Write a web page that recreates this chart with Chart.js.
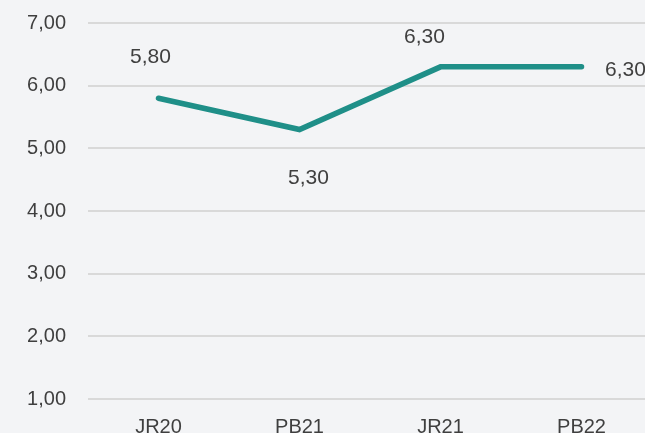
<!DOCTYPE html>
<html>
<head>
<meta charset="utf-8">
<script src="https://cdn.jsdelivr.net/npm/chart.js@4"></script>
<style>
  html, body { margin: 0; padding: 0; background: #f3f4f6; overflow: hidden; }
  #wrap { position: absolute; left: 0; top: 0; width: 652px; height: 455px; }
</style>
</head>
<body>
<div id="wrap"><canvas id="graf"></canvas></div>
<script>
// Donnees
const periodes = ['JR20', 'PB21', 'JR21', 'PB22'];
const valeurs = [5.80, 5.30, 6.30, 6.30];
const yTicks = [1, 2, 3, 4, 5, 6, 7];

// placement des etiquettes (dx, dy en px autour du point)
const etiqDx = [-8, 9, -16, 44];
const etiqDy = [-41, 49, -30, 3];

const police = "'Liberation Sans', Arial, sans-serif";
const fmt = (v) => v.toFixed(2).replace('.', ',');

// Plugin maison pour les etiquettes de valeurs
const etiquettes = {
    id: 'etiquettes',
    afterDatasetsDraw(chart) {
        const ctx = chart.ctx;
        const meta = chart.getDatasetMeta(0);
        ctx.save();
        ctx.font = '21px ' + police;
        ctx.fillStyle = '#3f3f3f';
        ctx.textAlign = 'center';
        ctx.textBaseline = 'middle';
        meta.data.forEach((pt, i) => {
            ctx.fillText(fmt(valeurs[i]), pt.x + etiqDx[i], pt.y + etiqDy[i]);
        });
        ctx.restore();
    }
};

let chart = new Chart(document.getElementById('graf'), {
    type: 'line',
    data: {
        labels: periodes,
        datasets: [{
            data: valeurs,
            borderColor: '#1f8f88',
            borderWidth: 5.5,
            borderCapStyle: 'round',
            borderJoinStyle: 'miter',
            pointRadius: 0,
            tension: 0,
            fill: false
        }]
    },
    options: {
        responsive: true,
        maintainAspectRatio: false,
        animation: false,
        layout: { padding: 0 },
        plugins: {
            legend: { display: false },
            tooltip: { enabled: false }
        },
        scales: {
            x: {
                offset: true,
                grid: { display: false, drawTicks: false },
                border: { display: false },
                ticks: {
                    color: '#3f3f3f',
                    font: { family: police, size: 20 },
                    padding: 16,
                    maxRotation: 0
                }
            },
            y: {
                min: 1,
                max: 7,
                afterBuildTicks: (axis) => { axis.ticks = yTicks.map(v => ({ value: v })); },
                afterFit: (axis) => { axis.width = 88; axis.paddingTop = 23; },
                grid: { color: '#d9d9d9', lineWidth: 2, drawTicks: false },
                border: { display: false },
                ticks: {
                    color: '#3f3f3f',
                    font: { family: police, size: 20 },
                    padding: 22,
                    callback: (v) => fmt(v)
                }
            }
        }
    },
    plugins: [etiquettes]
});
</script>
</body>
</html>
